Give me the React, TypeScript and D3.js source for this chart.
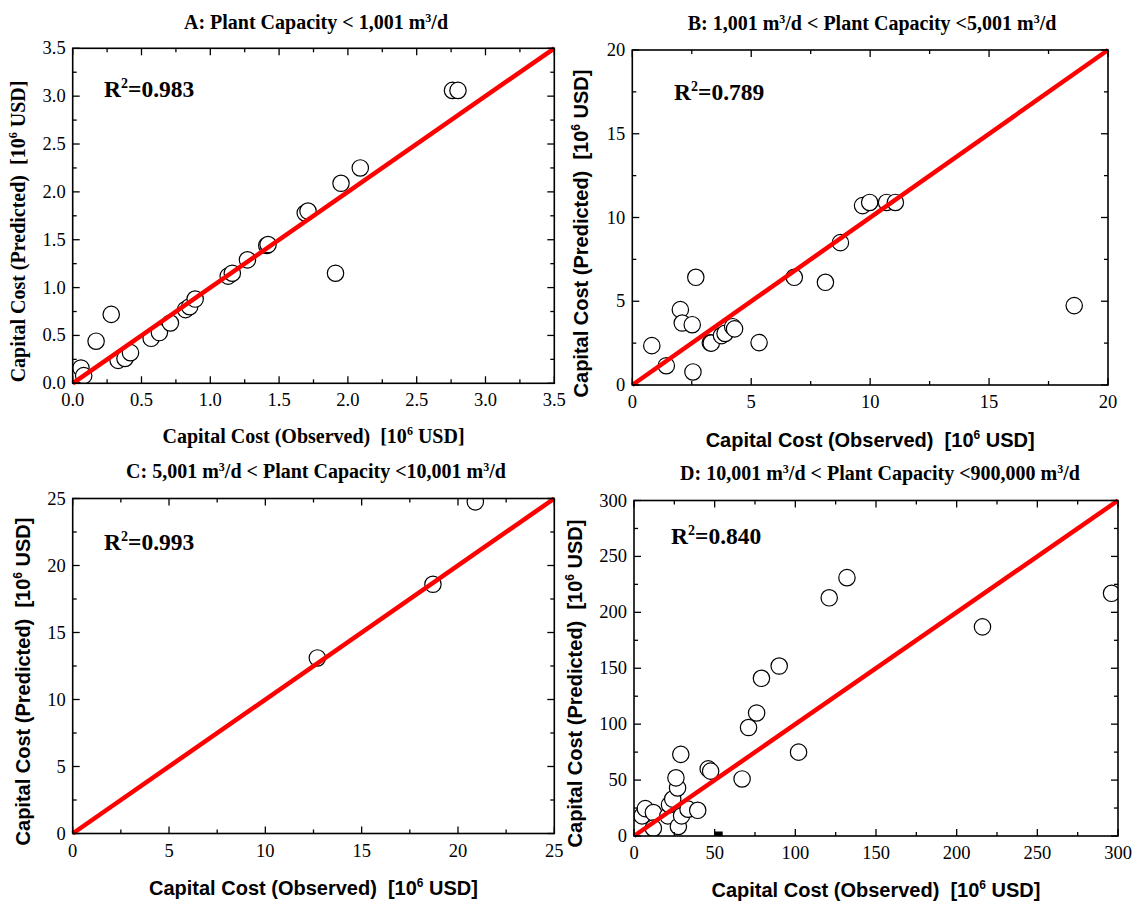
import React from 'react';
import * as d3 from 'd3';

// ---------- DATA ----------
const aObserved = [0.06, 0.08, 0.17, 0.28, 0.33, 0.38, 0.42, 0.57, 0.63, 0.71, 0.82, 0.85, 0.89, 1.13, 1.16, 1.27, 1.41, 1.42, 1.69, 1.71, 1.91, 1.95, 2.09, 2.76, 2.80];
const aPredicted = [0.16, 0.08, 0.44, 0.72, 0.24, 0.26, 0.32, 0.47, 0.53, 0.63, 0.77, 0.80, 0.88, 1.12, 1.15, 1.29, 1.44, 1.45, 1.78, 1.80, 1.15, 2.09, 2.25, 3.06, 3.06];

const bObserved = [0.82, 1.43, 2.02, 2.10, 2.52, 2.67, 2.55, 3.28, 3.32, 3.75, 3.90, 4.22, 4.30, 5.33, 6.81, 8.12, 8.75, 9.68, 9.98, 10.69, 11.06, 18.58];
const bPredicted = [2.35, 1.15, 4.50, 3.70, 3.60, 6.43, 0.78, 2.52, 2.50, 2.95, 3.08, 3.48, 3.35, 2.53, 6.43, 6.13, 8.50, 10.71, 10.90, 10.90, 10.90, 4.74];

const cObserved = [12.7, 18.7, 20.9];
const cPredicted = [13.1, 18.6, 24.75];

const dObserved = [5, 7, 12, 12, 21, 22, 24, 27, 26, 29, 27.5, 29.5, 33.5, 39.5, 46, 47.5, 67, 71, 76, 79, 90, 102, 121, 132, 216, 296];
const dPredicted = [18, 24.5, 21, 7, 18, 28, 33, 43, 52, 73, 8.5, 18, 24, 23, 60, 58, 51, 97, 110, 141, 152, 75, 213, 231, 187, 217];
const dSquareObserved = [52.5];
const dSquarePredicted = [0];

const aTicks = [0, 0.5, 1.0, 1.5, 2.0, 2.5, 3.0, 3.5];
const bTicks = [0, 5, 10, 15, 20];
const cTicks = [0, 5, 10, 15, 20, 25];
const dTicks = [0, 50, 100, 150, 200, 250, 300];

const r2Labels = ['0.983', '0.789', '0.993', '0.840'];
const titleA = [['A: Plant Capacity < 1,001 m', false], ['3', true], ['/d', false]];
const titleB = [['B: 1,001 m', false], ['3', true], ['/d < Plant Capacity <5,001 m', false], ['3', true], ['/d', false]];
const titleC = [['C: 5,001 m', false], ['3', true], ['/d < Plant Capacity <10,001 m', false], ['3', true], ['/d', false]];
const titleD = [['D: 10,001 m', false], ['3', true], ['/d < Plant Capacity <900,000 m', false], ['3', true], ['/d', false]];
const xLabel = [['Capital Cost (Observed)  [10', false], ['6', true], [' USD]', false]];
const yLabel = [['Capital Cost (Predicted)  [10', false], ['6', true], [' USD]', false]];

const SERIF = '"Liberation Serif", "Times New Roman", serif';
const SANS = '"Liberation Sans", Arial, sans-serif';

function Rich({ parts, supSize, supShift }: { parts: any[]; supSize: number; supShift: number }) {
  return (
    <>
      {parts.map((p, i) =>
        p[1] ? (
          <tspan key={i} dy={-supShift} fontSize={supSize}>{p[0]}</tspan>
        ) : (
          <tspan key={i} dy={i > 0 && parts[i - 1][1] ? supShift : 0}>{p[0]}</tspan>
        )
      )}
    </>
  );
}

function Panel(props: any) {
  const { id, box, max, ticks, minorStep, fmt, xs, ys, title, titleX, titleY, r2, r2X, r2Y, labelFont,
    xLabelY, yLabelX, yLabelCY, squareX, squareY } = props;
  const x = d3.scaleLinear().domain([0, max]).range([box.left, box.right]);
  const y = d3.scaleLinear().domain([0, max]).range([box.bottom, box.top]);
  const minors = d3.range(0, max + 1e-9, minorStep).filter((v) => !ticks.some((t: number) => Math.abs(t - v) < 1e-9));
  const clipId = 'clip-' + id;
  const maj = 7, mn = 4;
  return (
    <g>
      <defs>
        <clipPath id={clipId}>
          <rect x={box.left} y={box.top} width={box.right - box.left} height={box.bottom - box.top} />
        </clipPath>
      </defs>
      <g clipPath={`url(#${clipId})`}>
        {xs.map((v: number, i: number) => (
          <circle key={i} cx={x(v)} cy={y(ys[i])} r={8.2} fill="#fff" stroke="#000" strokeWidth={1.2} />
        ))}
        {squareX && squareX.map((v: number, i: number) => (
          <rect key={'s' + i} x={x(v) - 4} y={y(squareY[i]) - 4.5} width={8} height={9} fill="#000" />
        ))}
      </g>
      <line x1={x(0)} y1={y(0)} x2={x(max)} y2={y(max)} stroke="#ff0000" strokeWidth={4.5} />
      <rect x={box.left} y={box.top} width={box.right - box.left} height={box.bottom - box.top} fill="none" stroke="#000" strokeWidth={1.6} />
      {ticks.map((t: number) => (
        <g key={'M' + t} stroke="#000" strokeWidth={1.3}>
          <line x1={x(t)} x2={x(t)} y1={box.bottom} y2={box.bottom - maj} />
          <line x1={x(t)} x2={x(t)} y1={box.top} y2={box.top + maj} />
          <line x1={box.left} x2={box.left + maj} y1={y(t)} y2={y(t)} />
          <line x1={box.right} x2={box.right - maj} y1={y(t)} y2={y(t)} />
        </g>
      ))}
      {minors.map((t: number) => (
        <g key={'m' + t} stroke="#000" strokeWidth={1.3}>
          <line x1={x(t)} x2={x(t)} y1={box.bottom} y2={box.bottom - mn} />
          <line x1={x(t)} x2={x(t)} y1={box.top} y2={box.top + mn} />
          <line x1={box.left} x2={box.left + mn} y1={y(t)} y2={y(t)} />
          <line x1={box.right} x2={box.right - mn} y1={y(t)} y2={y(t)} />
        </g>
      ))}
      {ticks.map((t: number) => (
        <text key={'xl' + t} x={x(t)} y={box.bottom + 23} textAnchor="middle" fontFamily={SERIF} fontSize={18.5}>{fmt(t)}</text>
      ))}
      {ticks.map((t: number) => (
        <text key={'yl' + t} x={box.left - 7} y={y(t) + 6} textAnchor="end" fontFamily={SERIF} fontSize={18.5}>{fmt(t)}</text>
      ))}
      <text x={titleX} y={titleY} textAnchor="middle" fontFamily={SERIF} fontWeight="bold" fontSize={20} style={{ whiteSpace: 'pre' }}>
        <Rich parts={title} supSize={12} supShift={7} />
      </text>
      <text x={r2X} y={r2Y} fontFamily={SERIF} fontWeight="bold" fontSize={23.5}>
        <Rich parts={[['R', false], ['2', true], ['=' + r2, false]]} supSize={14} supShift={9} />
      </text>
      <text x={(box.left + box.right) / 2} y={xLabelY} textAnchor="middle" fontFamily={labelFont} fontWeight="bold" fontSize={20} style={{ whiteSpace: 'pre' }}>
        <Rich parts={xLabel} supSize={12} supShift={8} />
      </text>
      <text transform={`translate(${yLabelX},${yLabelCY}) rotate(-90)`} textAnchor="middle" fontFamily={labelFont} fontWeight="bold" fontSize={20} style={{ whiteSpace: 'pre' }}>
        <Rich parts={yLabel} supSize={12} supShift={8} />
      </text>
    </g>
  );
}

export default function App() {
  const f1 = (v: number) => v.toFixed(1);
  const f0 = (v: number) => String(v);
  return (
    <svg width={1134} height={905} style={{ position: 'absolute', left: 0, top: 0, background: '#fff' }}>
      <rect x={0} y={0} width={1134} height={905} fill="#fff" />
      <Panel id="a" box={{ left: 72.7, right: 554.3, top: 48.3, bottom: 383.3 }} max={3.5} ticks={aTicks} minorStep={0.25} fmt={f1}
        xs={aObserved} ys={aPredicted} title={titleA} titleX={316} titleY={29} r2={r2Labels[0]} r2X={104} r2Y={97}
        labelFont={SERIF} xLabelY={443} yLabelX={25} yLabelCY={231.5} />
      <Panel id="b" box={{ left: 632.3, right: 1108, top: 50, bottom: 385 }} max={20} ticks={bTicks} minorStep={2.5} fmt={f0}
        xs={bObserved} ys={bPredicted} title={titleB} titleX={872} titleY={30} r2={r2Labels[1]} r2X={674} r2Y={100}
        labelFont={SANS} xLabelY={447} yLabelX={588} yLabelCY={233.5} />
      <Panel id="c" box={{ left: 72.7, right: 554.3, top: 498.5, bottom: 833.5 }} max={25} ticks={cTicks} minorStep={2.5} fmt={f0}
        xs={cObserved} ys={cPredicted} title={titleC} titleX={316} titleY={478} r2={r2Labels[2]} r2X={104} r2Y={550}
        labelFont={SANS} xLabelY={895} yLabelX={30} yLabelCY={681.5} />
      <Panel id="d" box={{ left: 634, right: 1118, top: 500.5, bottom: 836 }} max={300} ticks={dTicks} minorStep={25} fmt={f0}
        xs={dObserved} ys={dPredicted} title={titleD} titleX={880} titleY={480} r2={r2Labels[3]} r2X={671} r2Y={544}
        labelFont={SANS} xLabelY={897} yLabelX={582} yLabelCY={683.5} squareX={dSquareObserved} squareY={dSquarePredicted} />
    </svg>
  );
}
